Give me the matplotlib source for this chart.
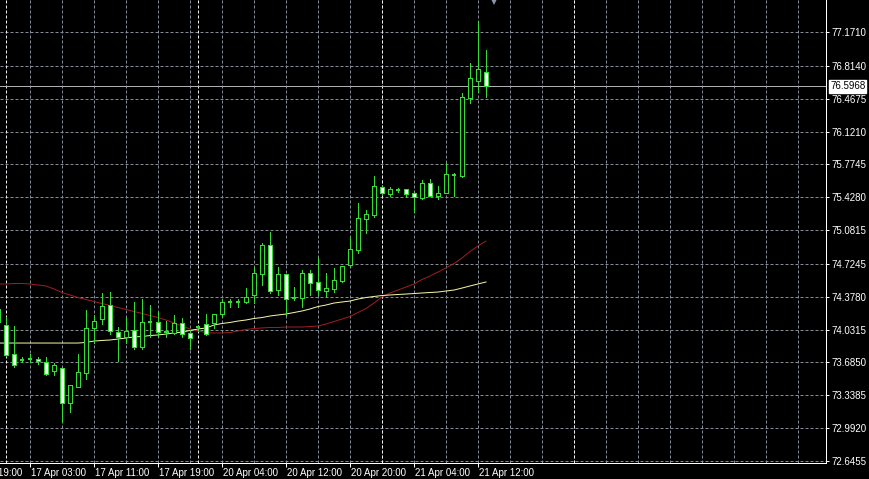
import matplotlib
matplotlib.use('Agg')
import matplotlib.pyplot as plt
from matplotlib.patches import Rectangle
from matplotlib.transforms import blended_transform_factory
import numpy as np

# ---------------- data (H1 candles, bar index 0 = 17 Apr 00:00) ----------------
first_bar = -1
opens = [74.249, 74.080, 73.774, 73.716, 73.722, 73.725, 73.690, 73.598, 73.623, 73.254,
         73.429, 73.577, 74.045, 74.140, 74.291, 74.003, 73.950, 74.027, 73.851, 74.115,
         74.109, 74.022, 73.999, 74.098, 73.993, 74.059, 74.088, 74.104, 74.193, 74.318,
         74.318, 74.320, 74.397, 74.615, 74.924, 74.449, 74.615, 74.365, 74.368, 74.626,
         74.531, 74.442, 74.457, 74.544, 74.713, 74.871, 75.195, 75.241, 75.533, 75.459,
         75.501, 75.512, 75.470, 75.417, 75.575, 75.444, 75.476, 75.663, 75.652, 76.472,
         76.654, 76.746]
highs = [74.281, 74.168, 74.070, 73.743, 73.774, 73.746, 73.739, 73.676, 73.634, 73.447,
         73.774, 74.238, 74.186, 74.415, 74.432, 74.062, 74.161, 74.323, 74.354, 74.291,
         74.214, 74.126, 74.186, 74.151, 74.027, 74.080, 74.193, 74.196, 74.354, 74.354,
         74.354, 74.467, 74.695, 74.942, 75.058, 74.695, 74.615, 74.484, 74.660, 74.660,
         74.794, 74.626, 74.678, 74.703, 74.995, 75.364, 75.293, 75.652, 75.557, 75.539,
         75.529, 75.512, 75.494, 75.610, 75.620, 75.547, 75.786, 75.687, 76.524, 76.841,
         77.273, 76.981]
lows = [74.091, 73.753, 73.634, 73.690, 73.693, 73.669, 73.553, 73.553, 73.060, 73.166,
        73.426, 73.511, 73.887, 74.088, 73.985, 73.704, 73.887, 73.824, 73.824, 73.950,
        73.950, 73.950, 73.985, 73.950, 73.824, 74.027, 73.975, 74.045, 74.168, 74.273,
        74.267, 74.309, 74.309, 74.502, 74.415, 74.397, 74.186, 74.344, 74.267, 74.397,
        74.397, 74.372, 74.432, 74.537, 74.695, 74.837, 75.054, 75.223, 75.452, 75.441,
        75.483, 75.434, 75.275, 75.406, 75.441, 75.413, 75.470, 75.441, 75.641, 76.425,
        76.541, 76.489]
closes = [74.112, 73.764, 73.658, 73.711, 73.716, 73.697, 73.560, 73.658, 73.254, 73.447,
          73.581, 74.045, 74.126, 74.281, 74.020, 73.950, 74.017, 73.851, 74.109, 74.109,
          74.010, 74.006, 74.098, 73.985, 73.940, 74.064, 73.985, 74.196, 74.320, 74.323,
          74.323, 74.372, 74.626, 74.924, 74.442, 74.618, 74.354, 74.370, 74.626, 74.520,
          74.449, 74.467, 74.555, 74.703, 74.879, 75.206, 75.248, 75.547, 75.470, 75.512,
          75.506, 75.462, 75.427, 75.575, 75.444, 75.470, 75.670, 75.668, 76.482, 76.683,
          76.778, 76.5968]
ma_red = [74.513, 74.513, 74.518, 74.518, 74.513, 74.502, 74.492, 74.460, 74.423, 74.397,
          74.370, 74.349, 74.328, 74.307, 74.286, 74.265, 74.244, 74.223, 74.202, 74.180,
          74.159, 74.133, 74.101, 74.070, 74.038, 74.017, 74.001, 73.996, 73.996, 74.001,
          74.017, 74.033, 74.043, 74.049, 74.054, 74.054, 74.059, 74.059, 74.059, 74.064,
          74.070, 74.091, 74.117, 74.143, 74.170, 74.212, 74.254, 74.312, 74.376, 74.418,
          74.449, 74.481, 74.513, 74.560, 74.597, 74.639, 74.682, 74.729, 74.787, 74.856,
          74.914, 74.966]
ma_yellow = [73.890, 73.890, 73.890, 73.890, 73.890, 73.890, 73.890, 73.890, 73.890, 73.890,
             73.890, 73.896, 73.911, 73.917, 73.922, 73.932, 73.943, 73.954, 73.959, 73.969,
             73.975, 73.985, 73.996, 74.006, 74.022, 74.038, 74.049, 74.080, 74.096, 74.107,
             74.122, 74.133, 74.149, 74.159, 74.175, 74.186, 74.196, 74.212, 74.228, 74.249,
             74.275, 74.291, 74.312, 74.323, 74.333, 74.354, 74.370, 74.381, 74.391, 74.397,
             74.402, 74.407, 74.412, 74.418, 74.423, 74.428, 74.439, 74.449, 74.470, 74.492,
             74.513, 74.534]
x_tick_bars = [-5, 3, 11, 19, 27, 35, 43, 51, 59]
x_tick_labels = ['16 Apr 19:00', '17 Apr 03:00', '17 Apr 11:00', '17 Apr 19:00',
                 '20 Apr 04:00', '20 Apr 12:00', '20 Apr 20:00', '21 Apr 04:00',
                 '21 Apr 12:00']
y_ticks = [72.6455, 72.9920, 73.3385, 73.6850, 74.0315, 74.3780, 74.7245, 75.0815,
           75.4280, 75.7745, 76.1210, 76.4675, 76.8140, 77.1710]
y_tick_labels = ['%.4f' % v for v in y_ticks]
bid_price = 76.5968
day_separator_bars = [0, 24, 47, 71]
arrow_bar, arrow_price = 61, 77.52

# ---------------- style ----------------
W, H = 869, 479
PX = 72.0 / 100.0
GREEN = '#33dd33'
GRID = '#858b94'
XMIN, XMAX = -0.75, 102.5

plt.rcParams['font.family'] = ['Liberation Sans', 'DejaVu Sans']
fig = plt.figure(figsize=(W / 100, H / 100), dpi=100, facecolor='black')
ax = fig.add_axes([0, 16 / H, 826 / W, 463 / H], facecolor='black')

# grid
for gx in range(3, 103, 4):
    ax.axvline(gx, color=GRID, lw=PX, ls=(0, (3, 2)), zorder=0)
for gy in y_ticks:
    ax.axhline(gy, color=GRID, lw=PX, ls=(0, (3, 2)), zorder=0)
for sx in day_separator_bars:
    ax.axvline(sx, color='#f0f0f0', lw=PX, ls=(0, (3, 2)), zorder=0.5)

xs = np.arange(len(opens)) + first_bar

# moving averages
ax.plot(xs, ma_red, color='#a01c24', lw=PX, zorder=3)
ax.plot(xs, ma_yellow, color='#f4f4a8', lw=PX, zorder=3)

# candles
bw = 0.6
for x, o, h, l, c in zip(xs, opens, highs, lows, closes):
    ax.vlines(x, l, h, color=GREEN, lw=PX, zorder=4, antialiased=False)
    bottom = min(o, c)
    height = abs(c - o)
    face = 'white' if c < o else 'black'
    if height < 0.012:
        ax.hlines((o + c) / 2, x - bw / 2, x + bw / 2, color=GREEN, lw=2 * PX, zorder=5,
                  antialiased=False)
    else:
        ax.add_patch(Rectangle((x - bw / 2, bottom), bw, height, facecolor=face,
                               edgecolor=GREEN, lw=PX, zorder=5, antialiased=False))

# bid line
ax.axhline(bid_price, color='#b0b0b0', lw=PX, zorder=2)

# arrow marker at the top
ax.plot([arrow_bar], [arrow_price], marker='v', markersize=9, color='#8c97a8',
        markeredgewidth=0, zorder=6, clip_on=True)

# axes
for s in ['left', 'top']:
    ax.spines[s].set_visible(False)
for s in ['right', 'bottom']:
    ax.spines[s].set_color('white')
    ax.spines[s].set_linewidth(PX)

ax.set_xticks(x_tick_bars)
ax.set_xticklabels([''] * len(x_tick_bars))
ax.yaxis.tick_right()
ax.set_yticks(y_ticks)
ax.set_yticklabels(y_tick_labels)
ax.tick_params(axis='x', colors='white', length=3, width=PX, labelsize=7, pad=1.5)
ax.tick_params(axis='y', colors='white', length=2.5, width=PX, labelsize=7, pad=1.5)

ax.set_xlim(XMIN, XMAX)
ax.set_ylim(72.6245, 77.5086)

# x labels as text (the first one is only partly visible, like the reference)
trx = blended_transform_factory(ax.transData, ax.transAxes)
for b, lab in zip(x_tick_bars, x_tick_labels):
    ax.text(b + 0.1, -10 / 463, lab, transform=trx, ha='left', va='center', fontsize=7,
            color='white', clip_on=False)

# bid price label
tr = blended_transform_factory(ax.transAxes, ax.transData)
ax.text(1.0 + 4 / 826, bid_price, '%.4f' % bid_price, transform=tr, ha='left', va='center',
        fontsize=7, color='black', clip_on=False, zorder=10,
        bbox=dict(boxstyle='square,pad=0.12', facecolor='white', edgecolor='white'))

fig.savefig('out.png', dpi=100, facecolor='black')
